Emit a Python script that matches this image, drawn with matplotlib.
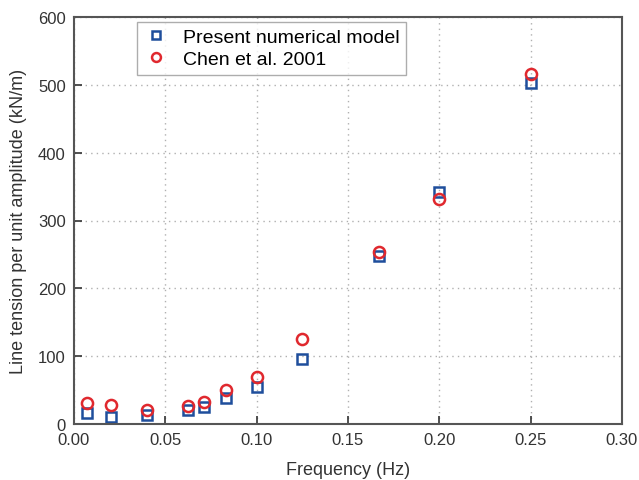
import matplotlib
matplotlib.use("Agg")
import matplotlib.pyplot as plt

plt.rcParams['font.family'] = ['Liberation Sans', 'DejaVu Sans']

# frequency (Hz)
freq = [0.0071, 0.02, 0.04, 0.0625, 0.0714, 0.0833, 0.1, 0.125, 0.1667, 0.2, 0.25]
# line tension per unit amplitude (kN/m)
present = [16, 10, 13, 21, 25, 38, 55, 96, 248, 342, 503]
chen = [31, 28, 21, 26, 33, 50, 70, 125, 254, 332, 516]

fig = plt.figure(figsize=(6.39, 4.81), dpi=100)
ax = fig.add_axes([74 / 639, 1 - 425 / 481, 548 / 639, 407 / 481])

ax.plot(freq, present, 's', ms=7.5, mfc='none', mec='#1f4e9c', mew=1.8,
        label='Present numerical model')
ax.plot(freq, chen, 'o', ms=8, mfc='none', mec='#e0282e', mew=1.8,
        label='Chen et al. 2001')

ax.set_xlim(0, 0.30)
ax.set_ylim(0, 600)
ax.set_xticks([0, 0.05, 0.10, 0.15, 0.20, 0.25, 0.30])
ax.set_xticklabels(['0.00', '0.05', '0.10', '0.15', '0.20', '0.25', '0.30'])
ax.set_yticks(range(0, 601, 100))
ax.grid(True, linestyle=(0, (1, 3)), color='#b0b0b0', lw=1)
ax.tick_params(direction='in', length=6, width=1.2, labelsize=12,
               colors='#333333', pad=6)
for s in ax.spines.values():
    s.set_color('#555555')
    s.set_linewidth(1.5)

ax.set_xlabel('Frequency (Hz)', fontsize=13, color='#333333', labelpad=10)
ax.set_ylabel('Line tension per unit amplitude (kN/m)', fontsize=13,
              color='#333333', labelpad=8)

ax.legend(loc='upper left', bbox_to_anchor=(0.115, 0.988), fontsize=14,
          frameon=True, fancybox=False, edgecolor='#999999',
          handletextpad=0.7, borderpad=0.35, labelspacing=0.2,
          handlelength=1.3, markerscale=0.8, borderaxespad=0)

fig.savefig('out.png', dpi=100)
